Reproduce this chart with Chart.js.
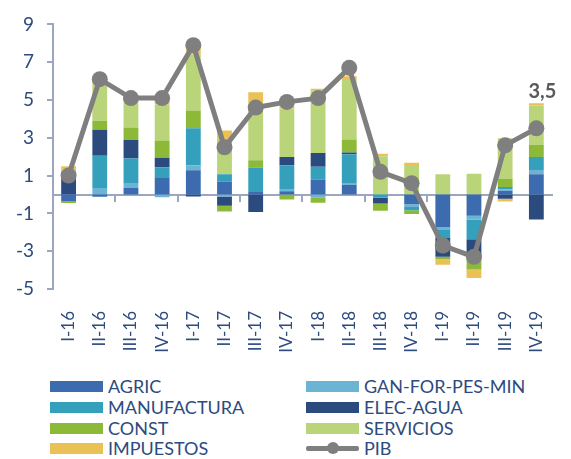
<!DOCTYPE html>
<html><head><meta charset="utf-8">
<script src="https://cdn.jsdelivr.net/npm/chart.js@4"></script>
<style>
body{margin:0;background:#fff;width:571px;height:459px;overflow:hidden;position:relative;font-family:Lato,sans-serif;}
#wrap{position:absolute;left:0;top:0;width:571px;height:370px;}
.lt{position:absolute;font-size:18px;color:#2d4b7e;line-height:20px;white-space:nowrap;}
.sw{position:absolute;width:53px;height:11px;}
</style></head><body>
<div id="wrap"><canvas id="c" width="571" height="370"></canvas></div>
<div id="legend"></div>
<script>
const categories = ['I-16','II-16','III-16','IV-16','I-17','II-17','III-17','IV-17','I-18','II-18','III-18','IV-18','I-19','II-19','III-19','IV-19'];
const agric      = [-0.35,-0.12, 0.35, 0.87, 1.28, 0.69, 0.17, 0.17, 0.78, 0.52, 0.00,-0.52,-1.72,-1.12, 0.20, 1.07];
const ganForPes  = [ 0.00, 0.35, 0.22,-0.15, 0.26,-0.10, 0.00, 0.12,-0.17, 0.05, 0.00,-0.14,-0.16,-0.20, 0.08, 0.23];
const manufact   = [ 0.00, 1.70, 1.33, 0.57, 1.96, 0.38, 1.26, 1.26, 0.69, 1.56,-0.17,-0.17,-0.42,-1.05, 0.12, 0.69];
const elecAgua   = [ 1.20, 1.37, 0.99, 0.50,-0.10,-0.50,-0.92, 0.44, 0.73, 0.09,-0.31, 0.00,-1.00,-0.90,-0.22,-1.32];
const constr     = [-0.10, 0.48, 0.66, 0.92, 0.95,-0.30, 0.38,-0.26,-0.26, 0.69,-0.38,-0.20,-0.12,-0.70, 0.42, 0.64];
const servicios  = [ 0.10, 2.00, 1.42, 1.90, 2.94, 1.81, 3.03, 2.56, 3.29, 3.20, 2.03, 1.56, 1.07, 1.10, 2.15, 2.08];
const impuestos  = [ 0.20, 0.10, 0.10, 0.20, 0.35, 0.50, 0.57, 0.15, 0.10, 0.15, 0.12, 0.12,-0.30,-0.45,-0.15, 0.12];
const pib        = [ 1.0, 6.1, 5.1, 5.1, 7.9, 2.5, 4.6, 4.9, 5.1, 6.7, 1.2, 0.6,-2.7,-3.3, 2.6, 3.5];
const yTicks = [-5,-3,-1,1,3,5,7,9];

const NAVY = '#2d4b7e';
const AXIS = '#9ba6c1';
const series = [
  {label:'AGRIC', data:agric, color:'#3c6bb0'},
  {label:'GAN-FOR-PES-MIN', data:ganForPes, color:'#6cb4d3'},
  {label:'MANUFACTURA', data:manufact, color:'#35a0bb'},
  {label:'ELEC-AGUA', data:elecAgua, color:'#2b4b7f'},
  {label:'CONST', data:constr, color:'#8cba38'},
  {label:'SERVICIOS', data:servicios, color:'#bad579'},
  {label:'IMPUESTOS', data:impuestos, color:'#e9c155'}
];
const PIBCOL = '#7f7f7f';

Chart.defaults.font.family = 'Lato, sans-serif';

const datasets = series.map(s => ({
  type:'bar', label:s.label, data:s.data, backgroundColor:s.color, borderWidth:0,
  stack:'a', order:1, barPercentage:0.5, categoryPercentage:0.95
}));
datasets.push({
  type:'line', label:'PIB', data:pib, borderColor:PIBCOL, backgroundColor:PIBCOL,
  borderWidth:5, pointRadius:8, pointBackgroundColor:PIBCOL, pointBorderWidth:0,
  stack:'pib', order:0, tension:0
});

const lastLabel = {
  id:'lastLabel',
  afterDatasetsDraw(chart){
    const idx = chart.data.datasets.length-1;
    const meta = chart.getDatasetMeta(idx);
    const n = pib.length-1;
    const pt = meta.data[n];
    const ctx = chart.ctx;
    ctx.save();
    ctx.font = 'bold 20px Lato, sans-serif';
    ctx.fillStyle = '#5a5a5a';
    ctx.textAlign = 'center';
    ctx.textBaseline = 'middle';
    ctx.fillText(String(pib[n]).replace('.', ','), pt.x+6, pt.y-37);
    ctx.restore();
  }
};

new Chart(document.getElementById('c'), {
  data:{labels:categories, datasets},
  options:{
    responsive:false, animation:false, devicePixelRatio:1,
    layout:{padding:{left:0,right:8,top:6,bottom:0}},
    plugins:{legend:{display:false}, tooltip:{enabled:false}},
    scales:{
      x:{
        type:'category', position:'bottom', offset:true,
        grid:{display:false}, border:{display:false},
        ticks:{maxRotation:90, minRotation:90, autoSkip:false, color:NAVY, font:{size:17}, padding:14},
        afterFit(s){ s.height = 81; }
      },
      x0:{
        type:'category', axis:'x', position:{y:0}, offset:true,
        grid:{offset:true, drawOnChartArea:false, drawTicks:true, tickLength:6, lineWidth:2,
              color:(c)=> (c.index % 2 === 0 ? AXIS : 'rgba(0,0,0,0)')},
        border:{display:true, color:AXIS, width:2},
        ticks:{display:false}
      },
      y:{
        stacked:true, min:yTicks[0], max:yTicks[yTicks.length-1],
        ticks:{stepSize:yTicks[1]-yTicks[0], color:NAVY, font:{size:19}, padding:13},
        grid:{drawOnChartArea:false, drawTicks:true, tickLength:6, color:AXIS, lineWidth:2},
        border:{display:true, color:AXIS, width:2},
        afterFit(s){ s.width = 53; }
      }
    }
  },
  plugins:[lastLabel]
});

// HTML legend in two columns
const legendItems = series.map(s=>({label:s.label, color:s.color, line:false}));
legendItems.push({label:'PIB', color:PIBCOL, line:true});
const colX = [50, 306];
const rowY = [386, 407, 428, 448];
const lg = document.getElementById('legend');
legendItems.forEach((it,i)=>{
  const col = i%2, row = Math.floor(i/2);
  const x = colX[col], y = rowY[row];
  if(!it.line){
    const sw = document.createElement('div');
    sw.className='sw'; sw.style.left=x+'px'; sw.style.top=(y-5.5)+'px'; sw.style.background=it.color;
    lg.appendChild(sw);
  } else {
    const ln = document.createElement('div');
    ln.style.cssText=`position:absolute;left:${x}px;top:${y-2.5}px;width:53px;height:5px;background:${it.color};border-radius:2px;`;
    lg.appendChild(ln);
    const dot = document.createElement('div');
    dot.style.cssText=`position:absolute;left:${x+26.5-6}px;top:${y-6}px;width:12px;height:12px;border-radius:50%;background:${it.color};`;
    lg.appendChild(dot);
  }
  const t = document.createElement('div');
  t.className='lt'; t.textContent=it.label; t.style.left=(x+58)+'px'; t.style.top=(y-10)+'px';
  lg.appendChild(t);
});
</script>
</body></html>
